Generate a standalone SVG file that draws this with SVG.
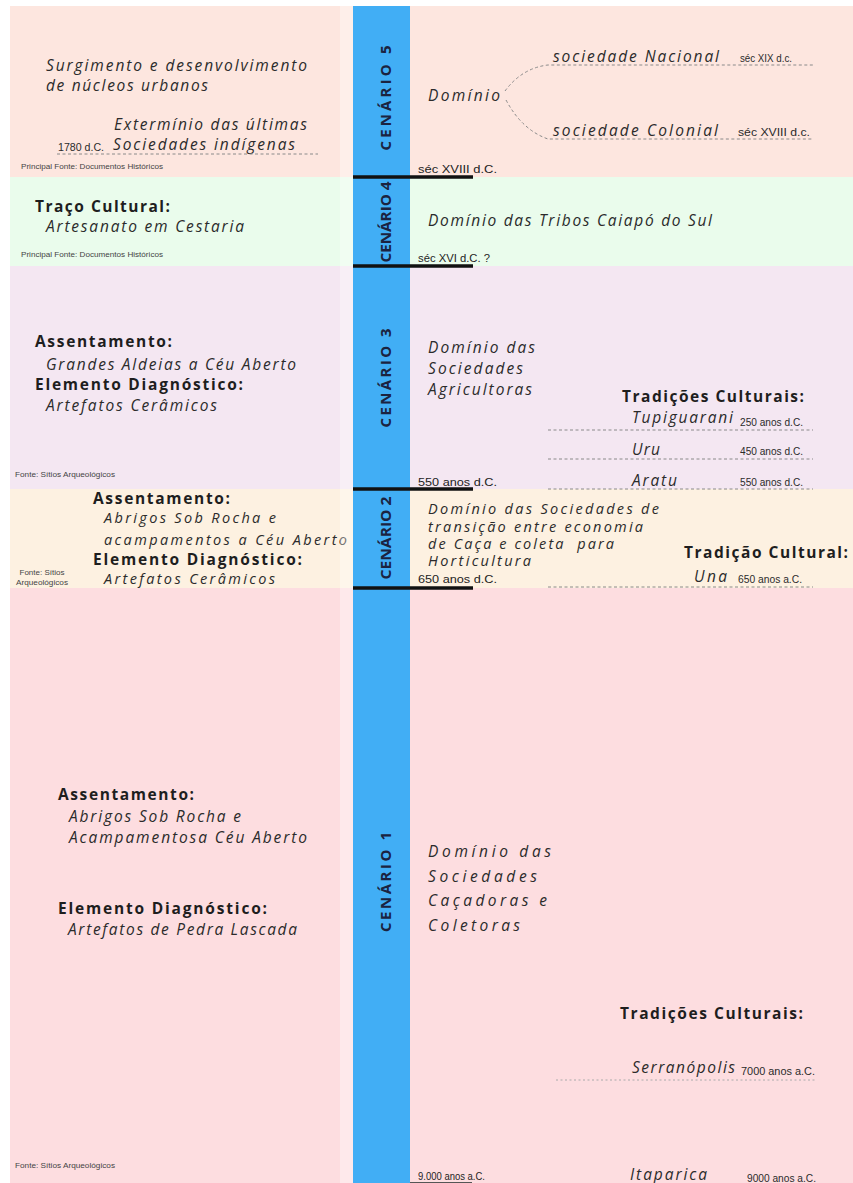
<svg xmlns="http://www.w3.org/2000/svg" width="853" height="1183" viewBox="0 0 853 1183">
<style>
.it{font-family:"Open Sans","DejaVu Sans",sans-serif;font-style:italic;font-weight:500;font-size:15.5px;fill:#2b2b2b;}
.itc{font-family:"Open Sans","DejaVu Sans",sans-serif;font-style:italic;font-weight:500;font-size:14.5px;fill:#2b2b2b;}
.bd{font-family:"Open Sans","DejaVu Sans",sans-serif;font-weight:bold;font-size:15.5px;fill:#1e1e1e;}
.sm{font-family:"Liberation Sans","DejaVu Sans",sans-serif;font-size:11.5px;fill:#1e1e1e;}
.xs{font-family:"Liberation Sans","DejaVu Sans",sans-serif;font-size:10px;fill:#2b2b2b;}
.tn{font-family:"Liberation Sans","DejaVu Sans",sans-serif;font-size:6.5px;fill:#444;}
.cen{font-family:"Open Sans","DejaVu Sans",sans-serif;font-weight:bold;font-size:15px;fill:#1b2340;text-anchor:middle;}
.dash{fill:none;stroke:#8a8a8a;stroke-width:1;stroke-dasharray:3 2.5;}
.bar{stroke:#111;stroke-width:3.5;}
</style>
<rect x="0" y="0" width="853" height="1183" fill="#ffffff"/>
<g id="cenario5">
<rect x="10" y="6" width="843" height="171" fill="#fde6df"/>
<text class="it" x="46" y="71" textLength="261" lengthAdjust="spacing">Surgimento e desenvolvimento</text>
<text class="it" x="46" y="91" textLength="162" lengthAdjust="spacing">de núcleos urbanos</text>
<text class="it" x="114" y="130" textLength="193" lengthAdjust="spacing">Extermínio das últimas</text>
<text class="it" x="113" y="150" textLength="182" lengthAdjust="spacing">Sociedades indígenas</text>
<text class="xs" x="58" y="151" textLength="46" lengthAdjust="spacingAndGlyphs">1780 d.C.</text>
<text class="tn" x="21" y="169" textLength="142" lengthAdjust="spacingAndGlyphs">Principal Fonte: Documentos Históricos</text>
<text class="it" x="428" y="101" textLength="72" lengthAdjust="spacing">Domínio</text>
<text class="it" x="553" y="62" textLength="166" lengthAdjust="spacing">sociedade Nacional</text>
<text class="xs" x="740" y="62" textLength="52" lengthAdjust="spacingAndGlyphs">séc XIX d.c.</text>
<text class="it" x="553" y="136" textLength="165" lengthAdjust="spacing">sociedade Colonial</text>
<text class="xs" x="738" y="136" textLength="72" lengthAdjust="spacingAndGlyphs">séc XVIII d.c.</text>
<text class="sm" x="418" y="173" textLength="79" lengthAdjust="spacingAndGlyphs">séc XVIII d.C.</text>
</g>
<g id="cenario4">
<rect x="10" y="177" width="843" height="89" fill="#eafcec"/>
<text class="bd" x="35" y="212" textLength="135" lengthAdjust="spacing">Traço Cultural:</text>
<text class="it" x="46" y="232" textLength="198" lengthAdjust="spacing">Artesanato em Cestaria</text>
<text class="tn" x="21" y="257" textLength="142" lengthAdjust="spacingAndGlyphs">Principal Fonte: Documentos Históricos</text>
<text class="it" x="428" y="226" textLength="284" lengthAdjust="spacing">Domínio das Tribos Caiapó do Sul</text>
<text class="sm" x="418" y="262" textLength="72" lengthAdjust="spacingAndGlyphs">séc XVI d.C. ?</text>
</g>
<g id="cenario3">
<rect x="10" y="266" width="843" height="223" fill="#f4e7f2"/>
<text class="bd" x="35" y="347" textLength="137" lengthAdjust="spacing">Assentamento:</text>
<text class="it" x="46" y="370" textLength="250" lengthAdjust="spacing">Grandes Aldeias a Céu Aberto</text>
<text class="bd" x="35" y="390" textLength="208" lengthAdjust="spacing">Elemento Diagnóstico:</text>
<text class="it" x="46" y="411" textLength="171" lengthAdjust="spacing">Artefatos Cerâmicos</text>
<text class="tn" x="15" y="477" textLength="100" lengthAdjust="spacingAndGlyphs">Fonte: Sítios Arqueológicos</text>
<text class="it" x="428" y="353" textLength="107" lengthAdjust="spacing">Domínio das</text>
<text class="it" x="428" y="374" textLength="95" lengthAdjust="spacing">Sociedades</text>
<text class="it" x="428" y="395" textLength="104" lengthAdjust="spacing">Agricultoras</text>
<text class="bd" x="622" y="402" textLength="182" lengthAdjust="spacing">Tradições Culturais:</text>
<text class="it" x="632" y="423" textLength="101" lengthAdjust="spacing">Tupiguarani</text>
<text class="xs" x="740" y="426" textLength="63" lengthAdjust="spacingAndGlyphs">250 anos d.C.</text>
<text class="it" x="632" y="455" textLength="28" lengthAdjust="spacing">Uru</text>
<text class="xs" x="740" y="455" textLength="63" lengthAdjust="spacingAndGlyphs">450 anos d.C.</text>
<text class="it" x="632" y="486" textLength="45" lengthAdjust="spacing">Aratu</text>
<text class="xs" x="740" y="486" textLength="63" lengthAdjust="spacingAndGlyphs">550 anos d.C.</text>
<text class="sm" x="418" y="486" textLength="79" lengthAdjust="spacingAndGlyphs">550 anos d.C.</text>
</g>
<g id="cenario2">
<rect x="10" y="489" width="843" height="99" fill="#fdf1e1"/>
<text class="bd" x="93" y="504" textLength="137" lengthAdjust="spacing">Assentamento:</text>
<text class="itc" x="104" y="523" textLength="172" lengthAdjust="spacing">Abrigos Sob Rocha e</text>
<text class="itc" x="104" y="545" textLength="243" lengthAdjust="spacing">acampamentos a Céu Aberto</text>
<text class="bd" x="93" y="565" textLength="209" lengthAdjust="spacing">Elemento Diagnóstico:</text>
<text class="itc" x="104" y="584" textLength="171" lengthAdjust="spacing">Artefatos Cerâmicos</text>
<text class="tn" x="42" y="575" text-anchor="middle" textLength="45" lengthAdjust="spacingAndGlyphs">Fonte: Sítios</text>
<text class="tn" x="42" y="585" text-anchor="middle" textLength="52" lengthAdjust="spacingAndGlyphs">Arqueológicos</text>
<text class="itc" x="428" y="514" textLength="231" lengthAdjust="spacing">Domínio das Sociedades de</text>
<text class="itc" x="428" y="532" textLength="215" lengthAdjust="spacing">transição entre economia</text>
<text class="itc" x="428" y="549" textLength="186" lengthAdjust="spacing" style="white-space:pre">de Caça e coleta  para</text>
<text class="itc" x="428" y="566" textLength="103" lengthAdjust="spacing">Horticultura</text>
<text class="sm" x="418" y="583" textLength="79" lengthAdjust="spacingAndGlyphs">650 anos d.C.</text>
<text class="bd" x="684" y="558" textLength="164" lengthAdjust="spacing">Tradição Cultural:</text>
<text class="it" x="694" y="582" textLength="33" lengthAdjust="spacing">Una</text>
<text class="xs" x="738" y="583" textLength="64" lengthAdjust="spacingAndGlyphs">650 anos a.C.</text>
</g>
<g id="cenario1">
<rect x="10" y="588" width="843" height="595" fill="#fddde0"/>
<text class="bd" x="58" y="800" textLength="136" lengthAdjust="spacing">Assentamento:</text>
<text class="it" x="69" y="822" textLength="172" lengthAdjust="spacing">Abrigos Sob Rocha e</text>
<text class="it" x="69" y="843" textLength="238" lengthAdjust="spacing">Acampamentosa Céu Aberto</text>
<text class="bd" x="58" y="914" textLength="209" lengthAdjust="spacing">Elemento Diagnóstico:</text>
<text class="it" x="68" y="935" textLength="229" lengthAdjust="spacing">Artefatos de Pedra Lascada</text>
<text class="it" x="428" y="857" textLength="123" lengthAdjust="spacing">Domínio das</text>
<text class="it" x="428" y="882" textLength="109" lengthAdjust="spacing">Sociedades</text>
<text class="it" x="428" y="906" textLength="119" lengthAdjust="spacing">Caçadoras e</text>
<text class="it" x="428" y="931" textLength="92" lengthAdjust="spacing">Coletoras</text>
<text class="bd" x="620" y="1019" textLength="183" lengthAdjust="spacing">Tradições Culturais:</text>
<text class="it" x="632" y="1073" textLength="103" lengthAdjust="spacing">Serranópolis</text>
<text class="xs" x="741" y="1075" textLength="74" lengthAdjust="spacingAndGlyphs">7000 anos a.C.</text>
<text class="tn" x="15" y="1168" textLength="100" lengthAdjust="spacingAndGlyphs">Fonte: Sítios Arqueológicos</text>
<text class="sm" x="418" y="1180" textLength="67" lengthAdjust="spacingAndGlyphs">9.000 anos a.C.</text>
<text class="it" x="630" y="1180" textLength="77" lengthAdjust="spacing">Itaparica</text>
<text class="xs" x="747" y="1182" textLength="69" lengthAdjust="spacingAndGlyphs">9000 anos a.C.</text>
</g>
<rect x="340" y="6" width="13" height="1177" fill="#ffffff" opacity="0.35"/>
<g id="timeline">
<rect x="353" y="6" width="57" height="1177" fill="#41aef5"/>
<text class="cen" transform="translate(391,98) rotate(-90)" textLength="105" lengthAdjust="spacing">CENÁRIO 5</text>
<text class="cen" transform="translate(391,222) rotate(-90)" textLength="81" lengthAdjust="spacingAndGlyphs">CENÁRIO 4</text>
<text class="cen" transform="translate(391,378) rotate(-90)" textLength="99" lengthAdjust="spacing">CENÁRIO 3</text>
<text class="cen" transform="translate(391,538) rotate(-90)" textLength="83" lengthAdjust="spacingAndGlyphs">CENÁRIO 2</text>
<text class="cen" transform="translate(391,882) rotate(-90)" textLength="100" lengthAdjust="spacing">CENÁRIO 1</text>
</g>
<g id="connectors">
<line class="dash" x1="57" y1="154" x2="318" y2="154"/>
<path class="dash" d="M505,91 Q522,68 548,65 L813,65"/>
<path class="dash" d="M506,100 Q522,130 548,139 L812,139"/>
<line class="dash" x1="548" y1="430" x2="813" y2="430"/>
<line class="dash" x1="548" y1="459" x2="813" y2="459"/>
<line class="dash" x1="548" y1="489" x2="813" y2="489"/>
<line class="dash" x1="548" y1="587" x2="813" y2="587"/>
<line class="dash" x1="556" y1="1080" x2="815" y2="1080" style="stroke:#aaa;stroke-dasharray:2 2.5"/>
<line class="bar" x1="353" y1="177" x2="473" y2="177"/>
<line class="bar" x1="353" y1="266" x2="473" y2="266"/>
<line class="bar" x1="353" y1="489" x2="473" y2="489"/>
<line class="bar" x1="353" y1="588" x2="473" y2="588"/>
<line x1="410" y1="1182.5" x2="472" y2="1182.5" stroke="#555" stroke-width="1"/>
</g>
</svg>
